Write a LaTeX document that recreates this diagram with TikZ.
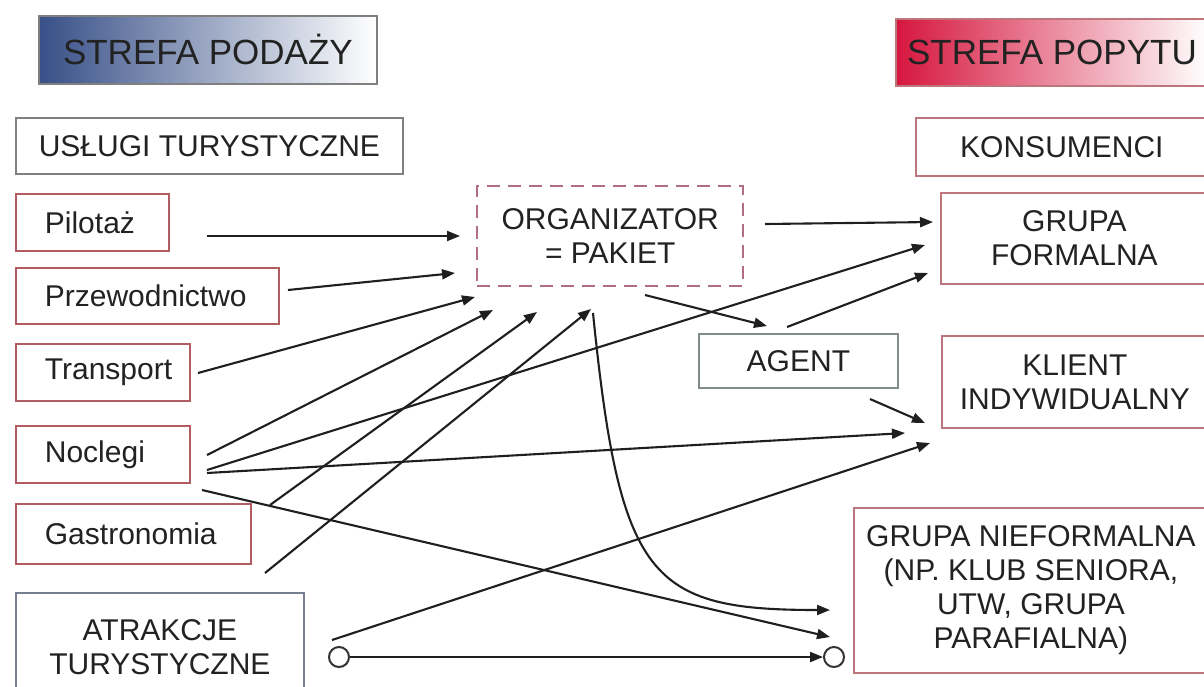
\documentclass[tikz,border=0pt]{standalone}
\usepackage{fontspec}
\setmainfont{Liberation Sans}
\usetikzlibrary{arrows.meta}

\definecolor{ink}{RGB}{34,34,34}
\definecolor{srcred}{RGB}{178,92,98}
\definecolor{tgtred}{RGB}{188,118,124}
\definecolor{frame}{RGB}{128,128,128}
\definecolor{atrframe}{RGB}{118,126,146}
\definecolor{agentframe}{RGB}{128,140,132}
\definecolor{podaz}{RGB}{56,80,136}
\definecolor{podazmid}{RGB}{166,177,205}
\definecolor{popyt}{RGB}{214,22,62}
\definecolor{popytmid}{RGB}{240,150,172}
\definecolor{orgdash}{RGB}{176,110,128}

\begin{document}
\begin{tikzpicture}[x=1pt,y=-1pt,
  every node/.style={text=ink, font=\fontsize{30}{34}\selectfont},
  boxbase/.style={draw, line width=1.8pt, anchor=north west, inner sep=0pt, align=center},
  zonebox/.style={boxbase, font=\fontsize{35}{40}\selectfont},
  plainbox/.style={boxbase, draw=frame},
  srcbox/.style={draw=srcred, line width=1.8pt, anchor=north west, inner xsep=29pt,
                 inner ysep=0pt, align=left, minimum height=57pt},
  tgtbox/.style={boxbase, draw=tgtred},
  orgbox/.style={boxbase, draw=orgdash, line width=2.4pt, dash pattern=on 13pt off 8pt},
  arr/.style={draw=black!88, line width=2.1pt, -{Triangle[length=13pt,width=10pt]}},
  ring/.style={circle, draw=black!80, line width=2pt, minimum size=20pt, inner sep=0pt},
]
\useasboundingbox (0,0) rectangle (1204,686);
\clip (0,0) rectangle (1204,686);
\fill[white] (0,0) rectangle (1204,686);

% zone headers
\node[zonebox, draw=frame, left color=podaz, middle color=podazmid, right color=white,
      minimum width=338pt, minimum height=68pt] (supply) at (38,15) {STREFA PODAŻY};
\node[zonebox, draw=tgtred, left color=popyt, middle color=popytmid, right color=white,
      minimum width=312pt, minimum height=67pt] (demand) at (895,18) {STREFA POPYTU};

% column headers
\node[plainbox, minimum width=387pt, minimum height=56pt] (services) at (15,117) {USŁUGI TURYSTYCZNE};
\node[tgtbox, minimum width=292pt, minimum height=58pt] (consumers) at (915,117) {KONSUMENCI};

% supply side
\node[srcbox, text width=95pt]  (pil) at (15,193) {Pilotaż};
\node[srcbox, text width=205pt, minimum height=56pt] (prz) at (15,267) {Przewodnictwo};
\node[srcbox, text width=116pt] (tra) at (15,343) {Transport};
\node[srcbox, text width=116pt] (noc) at (15,425) {Noclegi};
\node[srcbox, text width=177pt, minimum height=60pt] (gas) at (15,503) {Gastronomia};
\node[plainbox, draw=atrframe, minimum width=288pt, minimum height=108pt] (atr) at (15,592)
     {ATRAKCJE\\TURYSTYCZNE};

% intermediaries
\node[orgbox, minimum width=266pt, minimum height=100pt] (org) at (476,185) {ORGANIZATOR\\= PAKIET};
\node[plainbox, draw=agentframe, minimum width=199pt, minimum height=54pt] (agent) at (698,333) {AGENT};

% demand side
\node[tgtbox, minimum width=267pt, minimum height=91pt] (formal) at (940,192) {GRUPA\\FORMALNA};
\node[tgtbox, minimum width=266pt, minimum height=92pt] (indiv) at (941,335) {KLIENT\\INDYWIDUALNY};
\node[tgtbox, minimum width=354pt, minimum height=165pt] (informal) at (853,507)
     {GRUPA NIEFORMALNA\\(NP. KLUB SENIORA,\\UTW, GRUPA\\PARAFIALNA)};

% connector end points
\coordinate (pilOut) at (207,236);   \coordinate (orgInA) at (460,236);
\coordinate (przOut) at (288,290);   \coordinate (orgInB) at (455,273);
\coordinate (traOut) at (198,373);   \coordinate (orgInC) at (475,297);
\coordinate (nocOutA) at (207,455);  \coordinate (orgInD) at (493,310);
\coordinate (gasOut) at (270,505);   \coordinate (orgInE) at (537,312);
\coordinate (atrOutA) at (265,573);  \coordinate (orgInF) at (591,309);
\coordinate (nocOutB) at (207,470);  \coordinate (formInB) at (925,245);
\coordinate (nocOutC) at (207,473);  \coordinate (indInB) at (905,433);
\coordinate (nocOutD) at (202,490);  \coordinate (infInB) at (830,637);
\coordinate (orgOutA) at (765,224);  \coordinate (formInA) at (933,222);
\coordinate (orgOutB) at (645,295);  \coordinate (agentIn) at (767,326);
\coordinate (agentOutA) at (787,327);\coordinate (formInC) at (928,273);
\coordinate (agentOutB) at (870,399);\coordinate (indInA) at (925,423);
\coordinate (atrOutB) at (332,640);  \coordinate (indInC) at (930,443);
\coordinate (orgOutC) at (593,313);  \coordinate (infInA) at (830,610);
\node[ring] (atrRing) at (339,657) {};
\node[ring] (infRing) at (834,657) {};

% services into the package
\draw[arr] (pilOut) -- (orgInA);
\draw[arr] (przOut) -- (orgInB);
\draw[arr] (traOut) -- (orgInC);
\draw[arr] (nocOutA) -- (orgInD);
\draw[arr] (gasOut) -- (orgInE);
\draw[arr] (atrOutA) -- (orgInF);

% direct purchases of accommodation
\draw[arr] (nocOutB) -- (formInB);
\draw[arr] (nocOutC) -- (indInB);
\draw[arr] (nocOutD) -- (infInB);

% package and agent to consumers
\draw[arr] (orgOutA) -- (formInA);
\draw[arr] (orgOutB) -- (agentIn);
\draw[arr] (agentOutA) -- (formInC);
\draw[arr] (agentOutB) -- (indInA);
\draw[arr] (orgOutC) .. controls (620,580) and (650,610) .. (infInA);

% attractions
\draw[arr] (atrOutB) -- (indInC);
\draw[arr] (atrRing) -- (infRing);
\end{tikzpicture}
\end{document}
